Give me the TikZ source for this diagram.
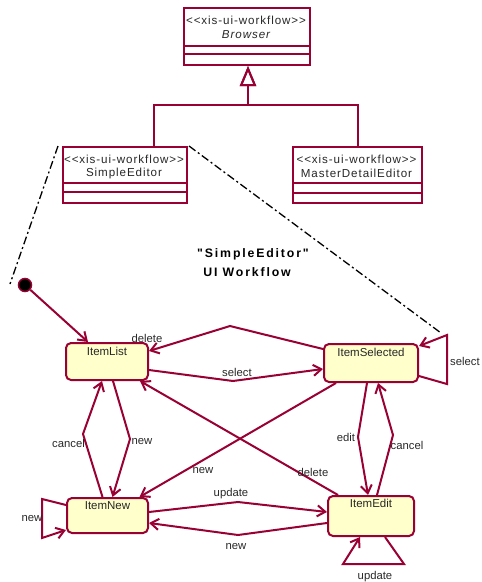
\documentclass[tikz,border=0pt]{standalone}
\usepackage{fontspec}
\setmainfont{Liberation Sans}
\newfontfamily\classfont[LetterSpace=8,Ligatures=TeXOff]{Liberation Sans}
\newfontfamily\titlefont[LetterSpace=15,Ligatures=TeXOff]{Liberation Sans}
\usetikzlibrary{arrows.meta,calc}
\definecolor{wine}{RGB}{153,0,51}
\definecolor{statefill}{RGB}{255,255,204}
\definecolor{labelgray}{RGB}{40,40,40}
\tikzset{
  classbox/.style={draw=wine, line width=2pt, fill=white, inner sep=0pt, anchor=north west},
  classtext/.style={font=\classfont\fontsize{11.6}{13}\selectfont, text=labelgray, inner sep=0pt},
  compline/.style={draw=wine, line width=2pt},
  generalization/.style={draw=wine, line width=2pt, -{Triangle[open,length=20pt,width=16pt]}},
  statebox/.style={draw=wine, fill=statefill, line width=2pt, rounded corners=5pt, inner sep=0pt},
  statename/.style={font=\fontsize{11.5}{13}\selectfont, text=labelgray, inner sep=0pt},
  edge/.style={draw=wine, line width=2pt, -{Straight Barb[length=8pt,width=11pt]}},
  elabel/.style={font=\fontsize{11.3}{13}\selectfont, text=labelgray, inner sep=0pt},
  zoomline/.style={draw=black, line width=1.3pt, dash pattern=on 8pt off 3pt on 2pt off 3pt},
  titletext/.style={font=\titlefont\bfseries\fontsize{12.3}{14}\selectfont, text=black, inner sep=0pt},
}
\begin{document}
\begin{tikzpicture}[x=1pt,y=-1pt]
\useasboundingbox (0,0) rectangle (482,582);

% ---- class boxes ----
\node[classbox, minimum width=126pt, minimum height=57pt] (browser) at (183,7) {};
\draw[compline] (183,46) -- (309,46);
\draw[compline] (183,54) -- (309,54);
\node[classtext] (browser-st) at (246,20) {<<xis-ui-workflow>>};
\node[classtext, font=\classfont\itshape\fontsize{11.6}{13}\selectfont] (browser-nm) at (246,35) {Browser};

\node[classbox, minimum width=124pt, minimum height=56pt] (simpleeditor) at (62,146) {};
\draw[compline] (62,183) -- (186,183);
\draw[compline] (62,192) -- (186,192);
\node[classtext] (simple-st) at (124,159) {<<xis-ui-workflow>>};
\node[classtext] (simple-nm) at (124,173) {SimpleEditor};

\node[classbox, minimum width=129pt, minimum height=56pt] (masterdetail) at (292,146) {};
\draw[compline] (292,183) -- (421,183);
\draw[compline] (292,193) -- (421,193);
\node[classtext] (master-st) at (356.5,159) {<<xis-ui-workflow>>};
\node[classtext] (master-nm) at (356.5,173) {MasterDetailEditor};

% ---- inheritance ----
\draw[generalization] ([xshift=29pt]simpleeditor.north) -- ([xshift=29pt]simpleeditor.north |- 0,105)
  -- ([xshift=1pt]browser.south |- 0,105) -- ([xshift=1pt]browser.south);
\draw[generalization] (masterdetail.north) -- (masterdetail.north |- 0,105)
  -- ([xshift=1pt]browser.south |- 0,105) -- ([xshift=1pt]browser.south);

% ---- title ----
\node[titletext] (title1) at (253,254) {"SimpleEditor"};
\node[titletext] (title2) at (247,272) {UI Workflow};

% ---- states ----
\node[circle, fill=black, draw=wine, line width=1.5pt, minimum size=13pt, inner sep=0pt] (init) at (25,285) {};
\node[statebox, minimum width=82pt, minimum height=37pt] (itemlist) at (107,361.5) {};
\node[statebox, minimum width=94pt, minimum height=38pt] (itemselected) at (371,363) {};
\node[statebox, minimum width=81pt, minimum height=35pt] (itemnew) at (107.5,515.5) {};
\node[statebox, minimum width=86pt, minimum height=40pt] (itemedit) at (371,516) {};
\node[statename] (itemlist-nm) at ([yshift=-9pt]itemlist.north) {ItemList};
\node[statename] (itemselected-nm) at ([yshift=-9pt]itemselected.north) {ItemSelected};
\node[statename] (itemnew-nm) at ([yshift=-8.5pt]itemnew.north) {ItemNew};
\node[statename] (itemedit-nm) at ([yshift=-8.5pt]itemedit.north) {ItemEdit};

% ---- dash-dot lines from SimpleEditor to its workflow ----
\coordinate (zoomA) at (10,284);
\coordinate (zoomB) at (441,333);
\draw[zoomline] ([xshift=-4pt]simpleeditor.north west) -- (zoomA);
\draw[zoomline] ([xshift=1pt]simpleeditor.north east) -- (zoomB);

% ---- transitions ----
\draw[edge] (init) -- ([xshift=-19pt]itemlist.north);

\draw[edge] ([yshift=14pt]itemselected.west) -- (230,326) -- ([yshift=10.5pt]itemlist.east);
\node[elabel] (l-delete1) at (147,338) {delete};

\draw[edge] ([yshift=-8.5pt]itemlist.east) -- (233,381) -- ([yshift=-6pt]itemselected.west);
\node[elabel] (l-select1) at (237,372) {select};

\draw[edge] ([yshift=-13pt]itemselected.east) -- (447,384) -- (447,335) -- ([yshift=17pt]itemselected.east);
\node[elabel] (l-select2) at (465,361) {select};

\draw[edge] ([xshift=6pt]itemlist.south) -- (130,439) -- ([xshift=5pt]itemnew.north);
\node[elabel] (l-new1) at (142,442) {new};
\draw[edge] ([xshift=-5pt]itemnew.north) -- (83,434) -- ([xshift=-5pt]itemlist.south);
\node[elabel] (l-cancel1) at (68.5,443) {cancel};

\draw[edge] ([yshift=10.5pt]itemnew.west) -- (42,499) -- (42,538) -- ([yshift=-14.5pt]itemnew.west);
\node[elabel] (l-new2) at (32,519) {new};

\draw[edge] ([yshift=3.5pt]itemnew.east) -- (238,502) -- ([yshift=4pt]itemedit.west);
\node[elabel] (l-update1) at (231,494) {update};
\draw[edge] ([yshift=-7pt]itemedit.west) -- (238,535) -- ([yshift=-7.5pt]itemnew.east);
\node[elabel] (l-new3) at (236,547) {new};

\draw[edge] ([xshift=14pt]itemedit.south) -- (404,564) -- (343,564) -- ([xshift=-11pt]itemedit.south);
\node[elabel] (l-update2) at (375,577) {update};

\draw[edge] ([xshift=-4pt]itemselected.south) -- (358,437) -- ([xshift=-3pt]itemedit.north);
\node[elabel] (l-edit) at (346,437) {edit};
\draw[edge] ([xshift=6pt]itemedit.north) -- (393,435) -- ([xshift=7pt]itemselected.south);
\node[elabel] (l-cancel2) at (407,445) {cancel};

\draw[edge] ([xshift=-35pt]itemselected.south) -- ([xshift=32pt]itemnew.north);
\node[elabel] (l-new4) at (203,471) {new};
\draw[edge] ([xshift=-33pt]itemedit.north) -- ([xshift=33pt]itemlist.south);
\node[elabel] (l-delete2) at (313,472) {delete};
\end{tikzpicture}
\end{document}
